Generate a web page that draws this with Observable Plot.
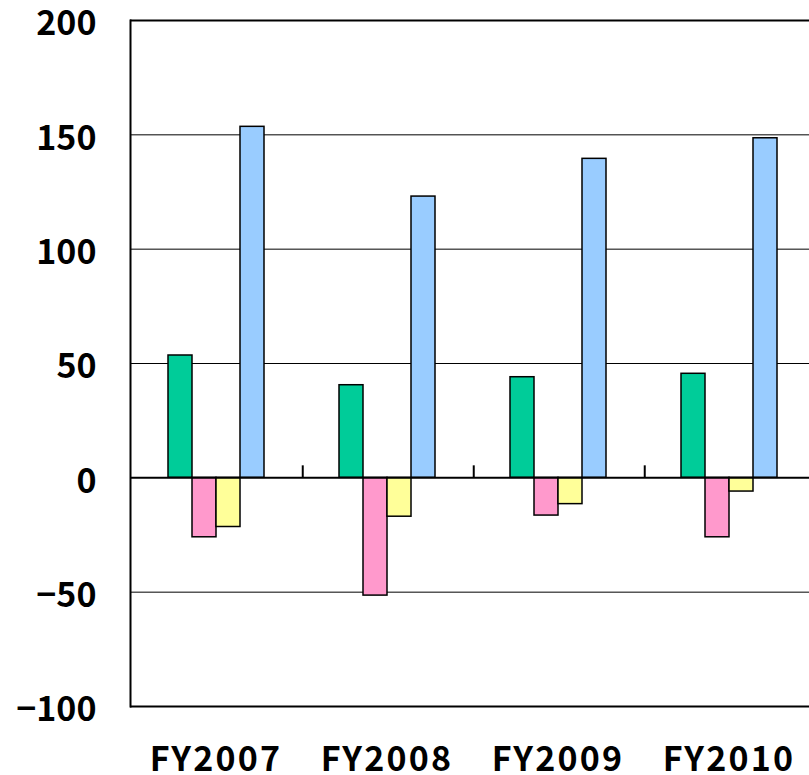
<!DOCTYPE html>
<html><head><meta charset="utf-8">
<script src="https://cdn.jsdelivr.net/npm/d3@7"></script>
<script src="https://cdn.jsdelivr.net/npm/@observablehq/plot@0.6"></script>
<style>
body{margin:0;background:#fff;}
#chart{width:809px;height:775px;overflow:hidden}
g[aria-label="fx-axis tick label"] text{letter-spacing:2.2px}
</style>
</head><body><div id="chart"></div>
<script>
const years = ["FY2007", "FY2008", "FY2009", "FY2010"];
const seriesNames = ["S1", "S2", "S3", "S4"];
const seriesS1 = [53.5, 40.5, 44, 45.5];
const seriesS2 = [-26, -51.5, -16.5, -26];
const seriesS3 = [-21.5, -17, -11.5, -6];
const seriesS4 = [153.5, 123, 139.5, 148.5];
const seriesColors = ["#00CC99", "#FF99CC", "#FFFF99", "#99CCFF"];
const yTicks = [-100, -50, 0, 50, 100, 150, 200];
const gridValues = [-50, 50, 100, 150];
const frameValues = [-100, 200];

const allSeries = [seriesS1, seriesS2, seriesS3, seriesS4];
const data = years.flatMap((yr, i) => allSeries.map((s, j) => ({year: yr, series: seriesNames[j], value: s[i]})));

const W = 809, H = 775, ML = 130, MR = -5, MT = 20, MB = 69;
const outerPad = 1.49;
const facetW = (W - ML - MR) / years.length;
const bw = facetW / (seriesNames.length + 2 * outerPad);

const chart = Plot.plot({
  width: W, height: H,
  marginLeft: ML, marginRight: MR, marginTop: MT, marginBottom: MB,
  style: {fontFamily: "'Noto Sans CJK JP', sans-serif", fontSize: "34px", fontWeight: "bold", color: "#000", background: "#fff"},
  fx: {domain: years, padding: 0, label: null},
  x: {domain: seriesNames, paddingInner: 0, paddingOuter: outerPad, axis: null},
  y: {domain: [-100, 200], label: null},
  color: {domain: seriesNames, range: seriesColors},
  marks: [
    Plot.ruleY(gridValues, {stroke: "#000", strokeWidth: 1}),
    Plot.ruleY(frameValues, {stroke: "#000", strokeWidth: 2}),
    Plot.barY(data, {fx: "year", x: "series", y: "value", fill: "series", stroke: "#000", strokeWidth: 1.5}),
    Plot.ruleY([0], {stroke: "#000", strokeWidth: 2}),
    Plot.ruleX(years.slice(1), {fx: d => d, x: () => seriesNames[0], y1: 0, y2: 5.25, stroke: "#000", strokeWidth: 2, dx: -(outerPad * bw + bw / 2)}),
    Plot.frame({anchor: "left", facet: "super", stroke: "#000", strokeWidth: 2}),
    Plot.axisY(yTicks, {tickSize: 0, tickPadding: 34, fontSize: 34, fontWeight: "bold", dy: 4}),
    Plot.axisFx({anchor: "bottom", tickSize: 0, tickPadding: 40, fontSize: 34, fontWeight: "bold", label: null})
  ]
});
document.getElementById("chart").appendChild(chart);
</script>
</body></html>
